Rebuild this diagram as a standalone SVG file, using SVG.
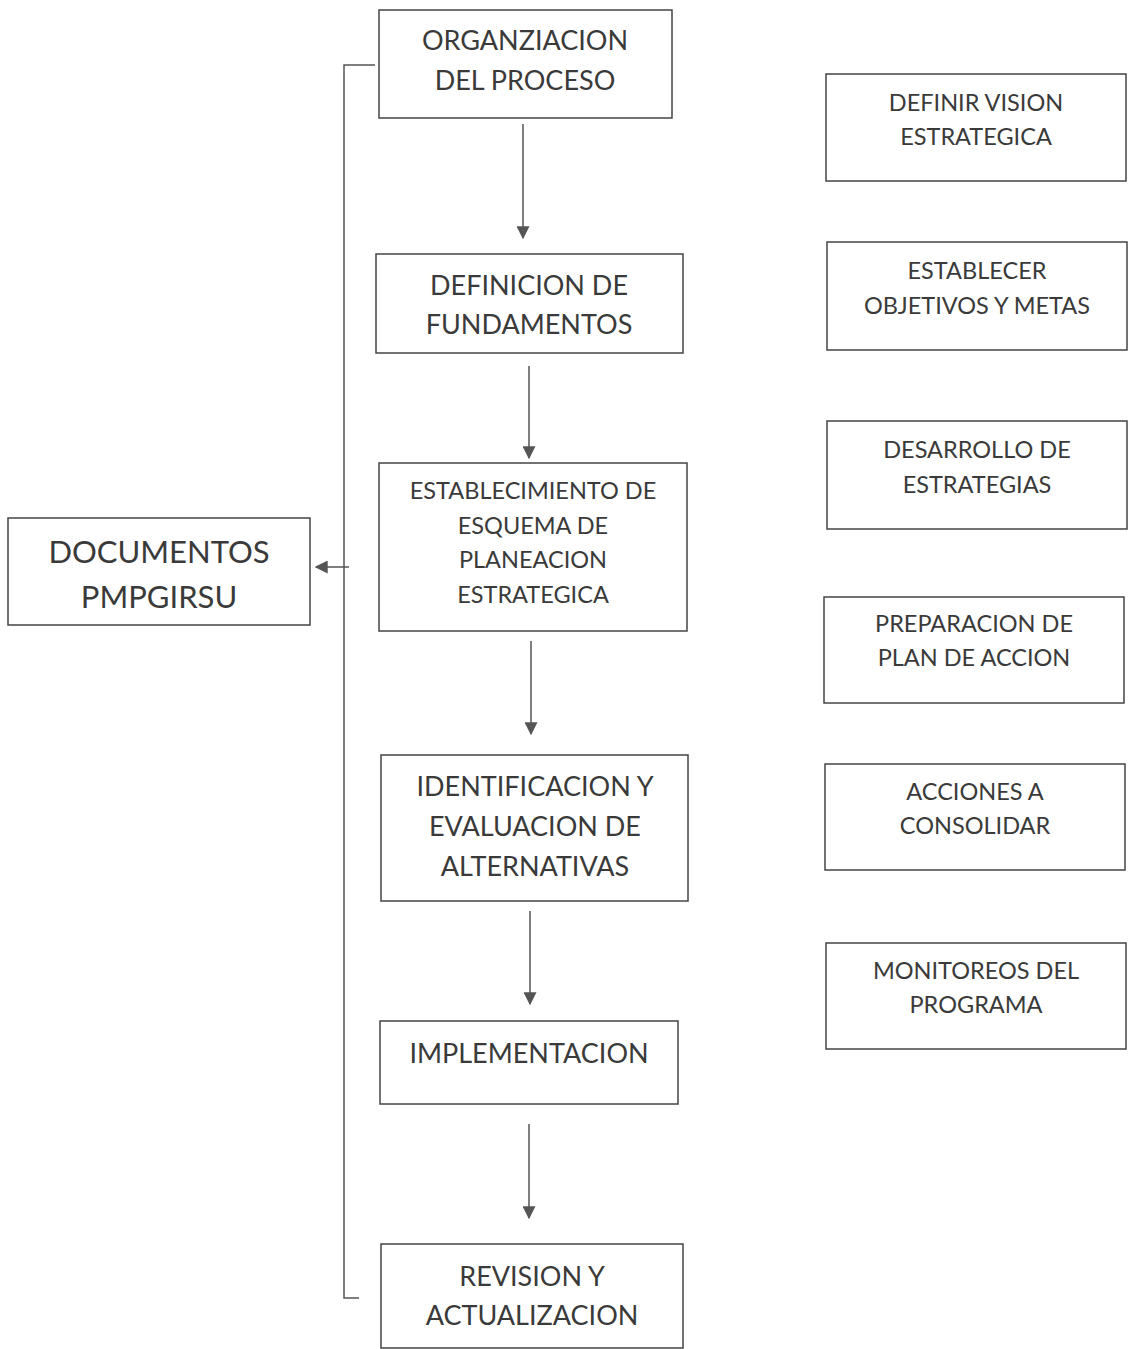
<svg xmlns="http://www.w3.org/2000/svg" width="1128" height="1349" viewBox="0 0 1128 1349">
<defs>
<style>
.box{fill:#fff;stroke:#444;stroke-width:1.5}
text{font-family:Lato,"Open Sans",sans-serif;fill:#3a3a3a;text-anchor:middle}
.m{font-size:27px}
.s{font-size:23.5px}
.r{font-size:23.5px}
.d{font-size:31px}
.c{stroke:#555;stroke-width:1.5;fill:none}
</style>
<marker id="ah2" viewBox="0 0 10 10" refX="9" refY="5" markerWidth="13" markerHeight="13" markerUnits="userSpaceOnUse" orient="auto">
<path d="M0,0 L10,5 L0,10 z" fill="#555"/>
</marker>
</defs>
<rect width="1128" height="1349" fill="#fff"/>
<g id="connectors">
<line class="c" x1="523" y1="124" x2="523" y2="238" marker-end="url(#ah2)"/>
<line class="c" x1="529" y1="366" x2="529" y2="458" marker-end="url(#ah2)"/>
<line class="c" x1="531" y1="641" x2="531" y2="734" marker-end="url(#ah2)"/>
<line class="c" x1="530" y1="911" x2="530" y2="1004" marker-end="url(#ah2)"/>
<line class="c" x1="529" y1="1124" x2="529" y2="1218" marker-end="url(#ah2)"/>
<polyline class="c" points="375,65 344,65 344,1298 359,1298"/>
<line class="c" x1="349" y1="567" x2="316" y2="567" marker-end="url(#ah2)"/>
</g>
<g id="n1"><rect class="box" x="379" y="10" width="293" height="108"/><text class="m" x="525" y="50">ORGANZIACION</text><text class="m" x="525" y="90">DEL PROCESO</text></g>
<g id="n2"><rect class="box" x="376" y="254" width="307" height="99"/><text class="m" x="529" y="295">DEFINICION DE</text><text class="m" x="529" y="334">FUNDAMENTOS</text></g>
<g id="n3"><rect class="box" x="379" y="463" width="308" height="168"/><text class="s" x="533" y="499">ESTABLECIMIENTO DE</text><text class="s" x="533" y="534">ESQUEMA DE</text><text class="s" x="533" y="568">PLANEACION</text><text class="s" x="533" y="603">ESTRATEGICA</text></g>
<g id="n4"><rect class="box" x="381" y="755" width="307" height="146"/><text class="m" x="535" y="796">IDENTIFICACION Y</text><text class="m" x="535" y="836">EVALUACION DE</text><text class="m" x="535" y="876">ALTERNATIVAS</text></g>
<g id="n5"><rect class="box" x="380" y="1021" width="298" height="83"/><text class="m" x="529" y="1063">IMPLEMENTACION</text></g>
<g id="n6"><rect class="box" x="381" y="1244" width="302" height="104"/><text class="m" x="532" y="1286">REVISION Y</text><text class="m" x="532" y="1325">ACTUALIZACION</text></g>
<g id="doc"><rect class="box" x="8" y="518" width="302" height="107"/><text class="d" x="159" y="563">DOCUMENTOS</text><text class="d" x="159" y="608">PMPGIRSU</text></g>
<g id="r1"><rect class="box" x="826" y="74" width="300" height="107"/><text class="r" x="976" y="111">DEFINIR VISION</text><text class="r" x="976" y="145">ESTRATEGICA</text></g>
<g id="r2"><rect class="box" x="827" y="242" width="300" height="108"/><text class="r" x="977" y="279">ESTABLECER</text><text class="r" x="977" y="314">OBJETIVOS Y METAS</text></g>
<g id="r3"><rect class="box" x="827" y="421" width="300" height="108"/><text class="r" x="977" y="458">DESARROLLO DE</text><text class="r" x="977" y="493">ESTRATEGIAS</text></g>
<g id="r4"><rect class="box" x="824" y="597" width="300" height="106"/><text class="r" x="974" y="632">PREPARACION DE</text><text class="r" x="974" y="666">PLAN DE ACCION</text></g>
<g id="r5"><rect class="box" x="825" y="764" width="300" height="106"/><text class="r" x="975" y="800">ACCIONES A</text><text class="r" x="975" y="834">CONSOLIDAR</text></g>
<g id="r6"><rect class="box" x="826" y="943" width="300" height="106"/><text class="r" x="976" y="979">MONITOREOS DEL</text><text class="r" x="976" y="1013">PROGRAMA</text></g>
</svg>
